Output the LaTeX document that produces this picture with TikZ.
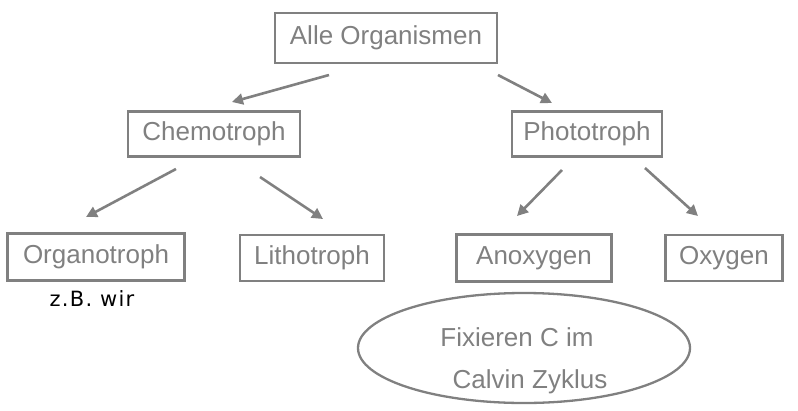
\documentclass[tikz,border=0pt]{standalone}
\usepackage{fontspec}
\setmainfont{Liberation Sans}
\newfontfamily\notefont[LetterSpace=6]{DejaVu Sans}
\usetikzlibrary{arrows.meta,shapes.geometric}
\definecolor{gr}{HTML}{808080}
\begin{document}
\begin{tikzpicture}[x=1pt,y=-1pt,
  box/.style={draw=gr,line width=2.6pt,text=gr,inner sep=0pt,font=\fontsize{26}{30}\selectfont},
  arr/.style={draw=gr,line width=2.6pt,-{Triangle[length=11pt,width=11pt]}}]
\useasboundingbox (0,0) rectangle (798,410);
\node[box,minimum width=222pt,minimum height=50pt] (all) at (386,38) {Alle Organismen};
\node[box,minimum width=172pt,minimum height=45pt] (chem) at (214,134) {Chemotroph};
\node[box,minimum width=150pt,minimum height=45pt] (phot) at (587,134) {Phototroph};
\node[box,minimum width=177pt,minimum height=47pt] (org) at (96,257) {Organotroph};
\node[box,minimum width=144pt,minimum height=46pt] (lith) at (312,258) {Lithotroph};
\node[box,minimum width=155pt,minimum height=47pt] (anox) at (534,258) {Anoxygen};
\node[box,minimum width=117pt,minimum height=46pt] (oxy) at (724,258) {Oxygen};
\node[text=black,font=\notefont\fontsize{21}{24}\selectfont] (zb) at (92,299) {z.B. wir};
\node[draw=gr,line width=2.3pt,ellipse,minimum width=332pt,minimum height=110pt] (ell) at (524,348) {};
\node[text=gr,font=\fontsize{26}{30}\selectfont] (fix) at (517,337) {Fixieren C im};
\node[text=gr,font=\fontsize{26}{30}\selectfont] (cal) at (530,382) {Calvin Zyklus};
\coordinate (a1s) at (329,75); \coordinate (a1e) at (232,102);
\coordinate (a2s) at (498,75); \coordinate (a2e) at (552,103);
\coordinate (a3s) at (176,169); \coordinate (a3e) at (86,217);
\coordinate (a4s) at (260,177); \coordinate (a4e) at (323,219);
\coordinate (a5s) at (562,170); \coordinate (a5e) at (517,216);
\coordinate (a6s) at (645,168); \coordinate (a6e) at (698,216);
\draw[arr] (a1s) -- (a1e);
\draw[arr] (a2s) -- (a2e);
\draw[arr] (a3s) -- (a3e);
\draw[arr] (a4s) -- (a4e);
\draw[arr] (a5s) -- (a5e);
\draw[arr] (a6s) -- (a6e);
\end{tikzpicture}
\end{document}
